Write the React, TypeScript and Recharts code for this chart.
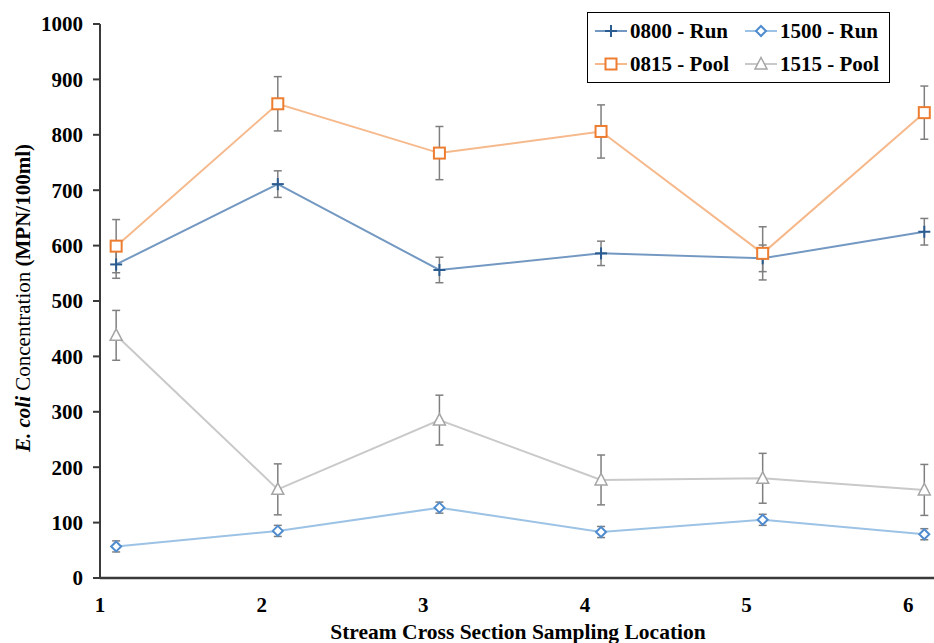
import React from 'react';
import {
  LineChart,
  Line,
  XAxis,
  YAxis,
  ErrorBar,
  Legend,
} from 'recharts';

// ─── Data ─────────────────────────────────────────────────────────────────────

const locations = [1.1, 2.1, 3.1, 4.1, 5.1, 6.1];

const run0800 = [566, 711, 556, 586, 577, 625];
const run0800Err = [25, 24, 23, 22, 24, 24];

const run1500 = [57, 85, 127, 83, 105, 79];
const run1500Err = [10, 10, 10, 10, 10, 10];

const pool0815 = [599, 856, 767, 806, 586, 840];
const pool0815Err = [48, 49, 48, 48, 48, 48];

const pool1515 = [438, 160, 285, 177, 180, 159];
const pool1515Err = [45, 46, 45, 45, 45, 46];

const xTicks = [1, 2, 3, 4, 5, 6];
const yTicks = [0, 100, 200, 300, 400, 500, 600, 700, 800, 900, 1000];

const data = locations.map((loc, i) => ({
  loc,
  run0800: run0800[i],
  run0800Err: run0800Err[i],
  run1500: run1500[i],
  run1500Err: run1500Err[i],
  pool0815: pool0815[i],
  pool0815Err: pool0815Err[i],
  pool1515: pool1515[i],
  pool1515Err: pool1515Err[i],
}));

// ─── Styles ───────────────────────────────────────────────────────────────────

const FONT = '"Liberation Serif", "Times New Roman", serif';
const AXIS = '#3a3a3a';
const ERR = '#7f7f7f';

const series = [
  { key: 'run0800', name: '0800 - Run', line: '#7398c2', mark: '#2b5c91', shape: 'plus' },
  { key: 'run1500', name: '1500 - Run', line: '#9cc3e5', mark: '#4f8ccf', shape: 'diamond' },
  { key: 'pool0815', name: '0815 - Pool', line: '#f6b98c', mark: '#ed7d31', shape: 'square' },
  { key: 'pool1515', name: '1515 - Pool', line: '#c9c9c9', mark: '#a5a5a5', shape: 'triangle' },
];

// ─── Markers ──────────────────────────────────────────────────────────────────

function Marker({ cx, cy, shape, color }: { cx: number; cy: number; shape: string; color: string }) {
  if (cx == null || cy == null) return null;
  if (shape === 'plus') {
    return (
      <g stroke={color} strokeWidth={2}>
        <line x1={cx - 6} y1={cy} x2={cx + 6} y2={cy} />
        <line x1={cx} y1={cy - 6} x2={cx} y2={cy + 6} />
      </g>
    );
  }
  if (shape === 'diamond') {
    return (
      <polygon
        points={`${cx},${cy - 5} ${cx + 5},${cy} ${cx},${cy + 5} ${cx - 5},${cy}`}
        fill="#fff"
        stroke={color}
        strokeWidth={2}
      />
    );
  }
  if (shape === 'square') {
    return <rect x={cx - 5.5} y={cy - 5.5} width={11} height={11} fill="#fff" stroke={color} strokeWidth={2} />;
  }
  return (
    <polygon
      points={`${cx},${cy - 6.5} ${cx + 6},${cy + 5} ${cx - 6},${cy + 5}`}
      fill="#fff"
      stroke={color}
      strokeWidth={1.5}
    />
  );
}

// ─── Legend ───────────────────────────────────────────────────────────────────

const legendPos = [
  { left: 7, top: 3 },
  { left: 157, top: 3 },
  { left: 7, top: 36 },
  { left: 157, top: 36 },
];

function ChartLegend() {
  return (
    <div
      style={{
        position: 'relative',
        width: 303,
        height: 71,
        boxSizing: 'border-box',
        border: '1.5px solid #000',
        background: '#fff',
        fontFamily: FONT,
        fontWeight: 'bold',
        fontSize: 21,
        color: '#000',
      }}
    >
      {series.map((s, i) => (
        <div
          key={s.key}
          style={{
            position: 'absolute',
            left: legendPos[i].left,
            top: legendPos[i].top,
            display: 'flex',
            alignItems: 'center',
            height: 30,
            whiteSpace: 'nowrap',
          }}
        >
          <svg width={32} height={16} style={{ marginRight: 3 }}>
            <line x1={0} y1={8} x2={32} y2={8} stroke={s.line} strokeWidth={2} />
            <Marker cx={16} cy={8} shape={s.shape} color={s.mark} />
          </svg>
          <span>{s.name}</span>
        </div>
      ))}
    </div>
  );
}

// ─── Axis labels ──────────────────────────────────────────────────────────────

function YTitle() {
  return (
    <text
      x={23}
      y={298}
      transform="rotate(-90 23 298)"
      textAnchor="middle"
      dominantBaseline="central"
      fontFamily={FONT}
      fontSize={21}
      fill="#000"
    >
      <tspan fontWeight="bold" fontStyle="italic">E. coli</tspan>
      <tspan> Concentration </tspan>
      <tspan fontWeight="bold">(MPN/100ml)</tspan>
    </text>
  );
}

function XTitle() {
  return (
    <text
      x={518}
      y={632}
      textAnchor="middle"
      dominantBaseline="central"
      fontFamily={FONT}
      fontSize={21.5}
      fontWeight="bold"
      fill="#000"
    >
      Stream Cross Section Sampling Location
    </text>
  );
}

const tickStyle = { fontSize: 21, fontFamily: FONT, fontWeight: 'bold', fill: '#000' };

export default function App() {
  return (
    <div style={{ position: 'absolute', left: 0, top: 0, width: 934, height: 643, background: '#fff' }}>
      <LineChart width={934} height={643} data={data} margin={{ top: 24, right: 0, left: 0, bottom: 0 }}>
        <XAxis
          type="number"
          dataKey="loc"
          domain={[1, 6.16]}
          ticks={xTicks}
          tick={tickStyle}
          tickLine={false}
          tickSize={0}
          tickMargin={19}
          height={65}
          axisLine={{ stroke: AXIS, strokeWidth: 2.5 }}
          label={{ content: () => <XTitle /> }}
        />
        <YAxis
          type="number"
          domain={[0, 1000]}
          ticks={yTicks}
          width={100}
          tick={tickStyle}
          tickSize={7}
          tickMargin={10}
          tickLine={{ stroke: AXIS, strokeWidth: 2 }}
          axisLine={{ stroke: AXIS, strokeWidth: 2 }}
          label={{ content: () => <YTitle /> }}
        />
        <Legend
          layout="vertical"
          align="center"
          verticalAlign="middle"
          wrapperStyle={{ left: 587, top: 12, width: 303, height: 71 }}
          content={() => <ChartLegend />}
        />
        {series.map((s) => (
          <Line
            key={s.key}
            dataKey={s.key}
            name={s.name}
            stroke={s.line}
            strokeWidth={2}
            isAnimationActive={false}
            dot={(p: any) => <Marker key={`${s.key}-${p.index}`} cx={p.cx} cy={p.cy} shape={s.shape} color={s.mark} />}
            activeDot={false}
          >
            <ErrorBar dataKey={`${s.key}Err`} direction="y" width={4} stroke={ERR} strokeWidth={1.5} isAnimationActive={false} />
          </Line>
        ))}
      </LineChart>
    </div>
  );
}
